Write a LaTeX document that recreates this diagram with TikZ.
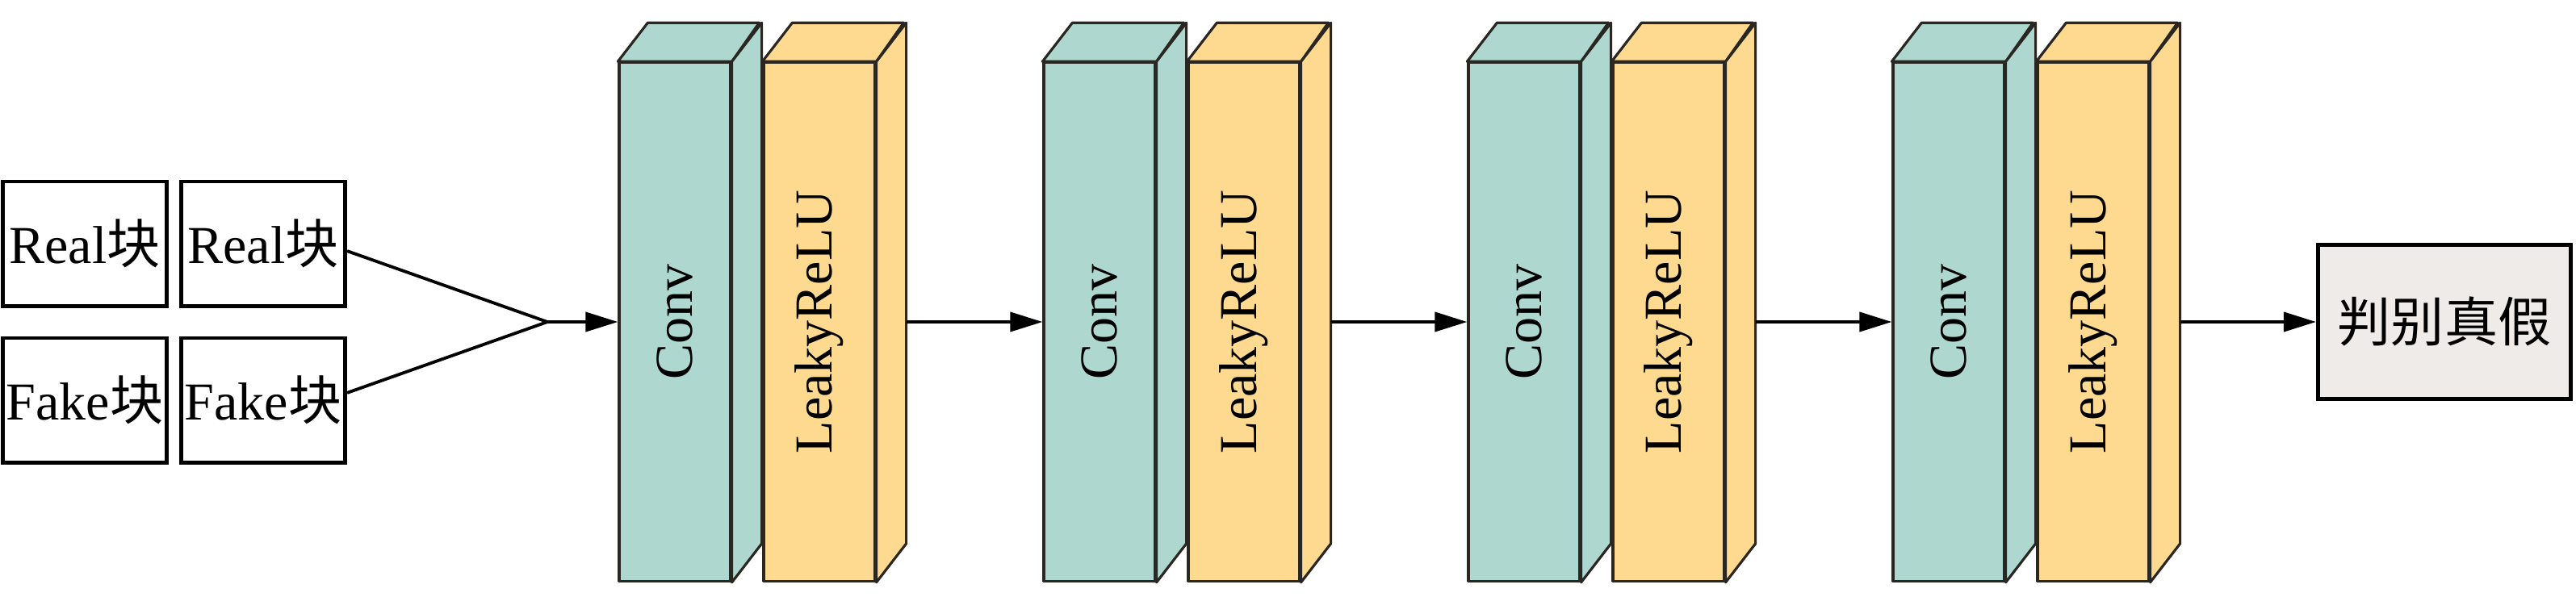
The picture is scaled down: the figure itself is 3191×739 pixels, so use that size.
\documentclass[tikz,border=0pt]{standalone}
\usepackage{fontspec}
\setmainfont{Liberation Serif}
\newfontfamily\cjk{Noto Sans CJK SC}
\usepackage{graphicx}
\usepackage{xcolor}
\usetikzlibrary{arrows.meta}
\definecolor{convcol}{HTML}{AED8CF}
\definecolor{relucol}{HTML}{FDDA90}
\definecolor{outcol}{HTML}{EFEBE9}
\definecolor{edgecol}{HTML}{2A2622}
\tikzstyle{arrow} = [line width=1.1pt,-{Triangle[length=0.4cm,width=0.24cm]}]
\tikzstyle{patch} = [draw,line width=1.4pt,minimum width=2.03cm,minimum height=1.54cm,inner sep=0pt]
\tikzstyle{face} = [draw=edgecol,line width=0.9pt,line join=round]
\tikzstyle{layer} = [face,minimum width=1.38cm,minimum height=6.42cm,inner sep=0pt]

\begin{document}
\begin{tikzpicture}[x=0.01cm,y=-0.01cm,font=\fontsize{18.8}{22}\selectfont]
		\useasboundingbox (0,0) rectangle (3191,739);
		% input patches
		\node[patch] (real1) at (105,302) {Real{\cjk 块}};
		\node[patch] (real2) at (326,302) {Real{\cjk 块}};
		\node[patch] (fake1) at (105,496) {Fake{\cjk 块}};
		\node[patch] (fake2) at (326,496) {Fake{\cjk 块}};
		\coordinate (merge) at (678,399);
		\draw[line width=1.1pt] (real2.-5) -- (merge) -- (fake2.5);

		% conv + leaky relu blocks
		\foreach \i in {1,...,4} {
			\node[layer,fill=convcol] (conv\i) at (310+526*\i,399) {\rotatebox{90}{Conv}};
			\draw[face,fill=convcol] (conv\i.north west) -- ++(37,-48) -- ++(138,0) -- (conv\i.north east) -- cycle;
			\draw[face,fill=convcol] (conv\i.north east) -- ++(37,-48) -- ([shift={(37,-48)}]conv\i.south east) -- (conv\i.south east) -- cycle;
			\node[layer,fill=relucol] (relu\i) at (489+526*\i,399) {\rotatebox{90}{LeakyReLU}};
			\draw[face,fill=relucol] (relu\i.north west) -- ++(37,-48) -- ++(138,0) -- (relu\i.north east) -- cycle;
			\draw[face,fill=relucol] (relu\i.north east) -- ++(37,-48) -- ([shift={(37,-48)}]relu\i.south east) -- (relu\i.south east) -- cycle;
		}

		\node[draw,line width=1.4pt,fill=outcol,minimum width=3.13cm,minimum height=1.91cm] (out) at (3028,399) {\cjk 判别真假};

		\draw[arrow] (merge) -- (conv1.west);
		\foreach \a/\b in {relu1/conv2,relu2/conv3,relu3/conv4,relu4/out}
			\draw[arrow] ([xshift=0.37cm]\a.east) -- (\b.west);
	\end{tikzpicture}
\end{document}
